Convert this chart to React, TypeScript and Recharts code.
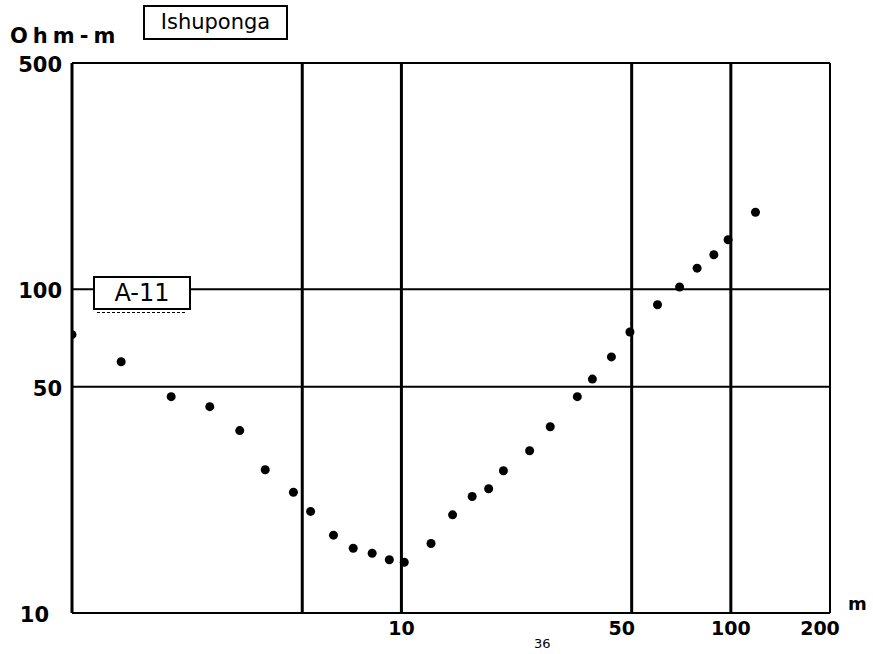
import React from "react";
import { ScatterChart, Scatter, XAxis, YAxis, ReferenceLine } from "recharts";

// electrode spacing (m) and apparent resistivity (ohm-m)
const spacing = [
  1, 1.41, 2.0, 2.62, 3.23, 3.86, 4.7, 5.3, 6.22, 7.14, 8.15, 9.19, 10.2, 12.3, 14.3,
  16.4, 18.4, 20.4, 24.5, 28.3, 34.2, 38.0, 43.4, 49.4, 59.9, 69.9, 79.0, 88.8, 98.1, 118.8,
];
const resistivity = [
  72.4, 59.7, 46.6, 43.4, 36.6, 27.7, 23.6, 20.6, 17.4, 15.85, 15.3, 14.6, 14.35, 16.4, 20.1,
  22.9, 24.2, 27.5, 31.7, 37.6, 46.6, 52.8, 61.8, 73.8, 89.6, 101.6, 116.2, 127.8, 142.2, 173,
];

const xTicks = [10, 50, 100, 200];
const yTicks = [10, 50, 100, 500];
const xGrid = [5, 10, 50, 100];
const yGrid = [50, 100];

const data = spacing.map((x, i) => ({ x, y: resistivity[i] }));

const FONT = "'DejaVu Sans', sans-serif";

// small hand-placed nudges, the scanned labels are not quite centred on their ticks
const xNudge: Record<number, number> = { 50: -10, 200: -10 };
const yNudge: Record<number, number> = { 10: -13 };

function XTick({ x, y, payload }: any) {
  return (
    <text x={x + (xNudge[payload.value] || 0)} y={y} dy={14} textAnchor="middle" fontFamily={FONT} fontWeight="bold" fontSize={19} fill="#000">
      {payload.value}
    </text>
  );
}

function YTick({ x, y, payload }: any) {
  return (
    <text x={x - 2 + (yNudge[payload.value] || 0)} y={y} dy={9} textAnchor="end" fontFamily={FONT} fontWeight="bold" fontSize={21} fill="#000">
      {payload.value}
    </text>
  );
}

export default function App() {
  return (
    <div style={{ position: "absolute", left: 0, top: 0, width: 873, height: 654, background: "#fff" }}>
      <ScatterChart width={873} height={654} margin={{ top: 63, right: 43, bottom: 11, left: 12 }}>
        <XAxis
          type="number"
          dataKey="x"
          scale="log"
          domain={[1, 200]}
          ticks={xTicks}
          allowDataOverflow
          height={30}
          tickLine={false}
          tick={<XTick />}
          axisLine={{ stroke: "#000", strokeWidth: 2 }}
        />
        <YAxis
          type="number"
          dataKey="y"
          scale="log"
          domain={[10, 500]}
          ticks={yTicks}
          allowDataOverflow
          width={60}
          tickLine={false}
          tick={<YTick />}
          axisLine={{ stroke: "#000", strokeWidth: 3 }}
        />
        {xGrid.map((v) => (
          <ReferenceLine key={"x" + v} x={v} stroke="#000" strokeWidth={3} />
        ))}
        {yGrid.map((v) => (
          <ReferenceLine key={"y" + v} y={v} stroke="#000" strokeWidth={2} />
        ))}
        <ReferenceLine x={200} stroke="#000" strokeWidth={2} />
        <ReferenceLine y={500} stroke="#000" strokeWidth={2} />
        <Scatter data={data} fill="#000" isAnimationActive={false} shape={(p: any) => <circle cx={p.cx} cy={p.cy} r={4.5} fill="#000" />} />
      </ScatterChart>

      <div style={{ position: "absolute", left: 10, top: 24, fontFamily: FONT, fontWeight: "bold", fontSize: 21, letterSpacing: 5 }}>
        Ohm-m
      </div>
      <div
        style={{
          position: "absolute",
          left: 143,
          top: 5,
          width: 141,
          height: 31,
          border: "2px solid #000",
          fontFamily: FONT,
          fontSize: 21,
          lineHeight: "31px",
          textAlign: "center",
          background: "#fff",
        }}
      >
        Ishuponga
      </div>
      <div
        style={{
          position: "absolute",
          left: 93,
          top: 276,
          width: 94,
          height: 30,
          border: "2px solid #000",
          fontFamily: FONT,
          fontSize: 24,
          lineHeight: "30px",
          textAlign: "center",
          background: "#fff",
        }}
      >
        A-11
      </div>
      <div style={{ position: "absolute", left: 97, top: 312, width: 88, borderTop: "1px dashed #000" }} />
      <div style={{ position: "absolute", left: 848, top: 593, fontFamily: FONT, fontSize: 18, fontWeight: "bold" }}>m</div>
      <div style={{ position: "absolute", left: 534, top: 636, fontFamily: FONT, fontSize: 13 }}>36</div>
    </div>
  );
}
